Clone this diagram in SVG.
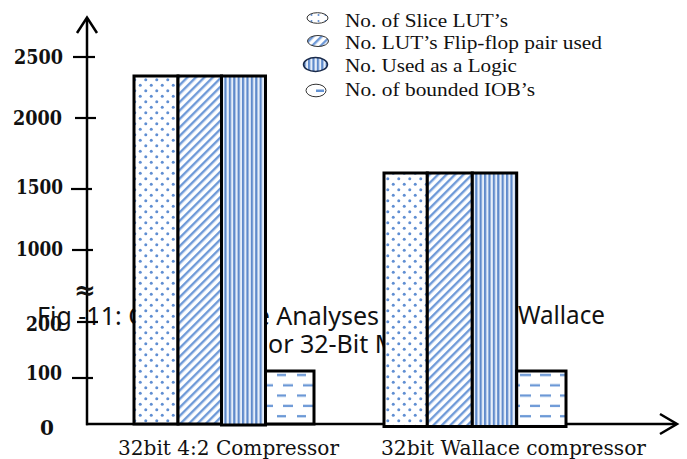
<svg xmlns="http://www.w3.org/2000/svg" width="687" height="459" viewBox="0 0 687 459">
<style>
.ax{stroke:#000;stroke-width:2.5;fill:none}
.tk{stroke:#000;stroke-width:2.2}
.yl{font-family:"DejaVu Serif",serif;font-weight:bold;font-size:20px;fill:#111;text-anchor:end}
.cap{font-family:"Noto Sans","Liberation Sans",sans-serif;font-size:25px;fill:#111}
.xl{font-family:"DejaVu Serif",serif;font-size:21px;fill:#111}
.lg{font-family:"Liberation Serif","Times New Roman",serif;font-size:18.5px;fill:#111}
.bar{stroke:#000;stroke-width:3}
.ic{stroke:#333;stroke-width:1}
</style>
<defs>
<pattern id="pDots" patternUnits="userSpaceOnUse" width="11" height="11">
<rect width="11" height="11" fill="#fff"/>
<circle cx="2.75" cy="2.75" r="1.5" fill="#5f8ed2"/>
<circle cx="8.25" cy="8.25" r="1.5" fill="#5f8ed2"/>
</pattern>
<pattern id="pDiag" patternUnits="userSpaceOnUse" width="6" height="6" patternTransform="rotate(45)">
<rect width="6" height="6" fill="#fff"/>
<rect x="0" y="0" width="2.4" height="6" fill="#6f9ad8"/>
</pattern>
<pattern id="pVert" patternUnits="userSpaceOnUse" width="4.4" height="10">
<rect width="4.4" height="10" fill="#e6eef9"/>
<rect x="0" y="0" width="2.2" height="10" fill="#5f8acb"/>
</pattern>
<pattern id="pDash1" patternUnits="userSpaceOnUse" width="20" height="20.6">
<rect width="20" height="20.6" fill="#fff"/>
<rect x="17" y="3.1" width="3" height="2.2" fill="#6493d4"/>
<rect x="0" y="3.1" width="6" height="2.2" fill="#6493d4"/>
<rect x="3" y="13.4" width="10" height="2.2" fill="#6493d4"/>
</pattern>
<pattern id="pDash2" patternUnits="userSpaceOnUse" width="20" height="20.6">
<rect width="20" height="20.6" fill="#fff"/>
<rect x="0" y="3.1" width="11" height="2.2" fill="#6493d4"/>
<rect x="10" y="13.4" width="10" height="2.2" fill="#6493d4"/>
</pattern>
<pattern id="iDots" patternUnits="userSpaceOnUse" width="7" height="6">
<rect width="7" height="6" fill="#fff"/>
<circle cx="3.5" cy="3" r="1" fill="#5f8ed2"/>
</pattern>
</defs>

<g id="caption">
<text class="cap" x="37" y="325">Fig -11: C</text>
<text class="cap" x="379" y="325" text-anchor="end">e Analyses</text>
<text class="cap" x="518" y="324" textLength="87" lengthAdjust="spacingAndGlyphs">Wallace</text>
<text class="cap" x="268" y="353">or 32-Bit M</text>
</g>

<g id="connectors">
<line class="ax" x1="87" y1="425.2" x2="87" y2="18"/>
<polyline class="ax" points="77,33 87,17.5 97,33"/>
<line class="ax" x1="86" y1="424" x2="676" y2="424"/>
<polyline class="ax" points="660,414 677,424 660,434"/>
<line class="tk" x1="73" y1="57" x2="95" y2="57"/>
<line class="tk" x1="75" y1="118" x2="96" y2="118"/>
<line class="tk" x1="71" y1="189" x2="92" y2="189"/>
<line class="tk" x1="72" y1="250" x2="93" y2="250"/>
<line class="tk" x1="77" y1="322" x2="98" y2="322"/>
<line class="tk" x1="72" y1="378" x2="93" y2="378"/>
</g>

<g id="y-labels">
<text class="yl" x="63" y="64" textLength="49" lengthAdjust="spacingAndGlyphs">2500</text>
<text class="yl" x="62" y="125" textLength="49" lengthAdjust="spacingAndGlyphs">2000</text>
<text class="yl" x="63" y="194" textLength="47" lengthAdjust="spacingAndGlyphs">1500</text>
<text class="yl" x="63" y="256" textLength="47" lengthAdjust="spacingAndGlyphs">1000</text>
<text class="yl" x="62" y="331" textLength="36" lengthAdjust="spacingAndGlyphs">200</text>
<text class="yl" x="62" y="380" textLength="36" lengthAdjust="spacingAndGlyphs">100</text>
<text class="yl" x="54" y="435">0</text>
<text x="85" y="299" style="font-family:'DejaVu Serif',serif;font-weight:bold;font-size:26px;text-anchor:middle;fill:#111">≈</text>
</g>

<g id="group-42">
<rect class="bar" x="134" y="76" width="44" height="348" fill="url(#pDots)"/>
<rect class="bar" x="178" y="76" width="43.5" height="348" fill="url(#pDiag)"/>
<rect class="bar" x="221.5" y="76" width="44" height="349" fill="url(#pVert)"/>
<rect class="bar" x="265.5" y="371" width="48.5" height="53" fill="url(#pDash1)"/>
</g>

<g id="group-wallace">
<rect class="bar" x="384" y="173" width="43.3" height="253.5" fill="url(#pDots)"/>
<rect class="bar" x="427.3" y="173" width="45" height="253.5" fill="url(#pDiag)"/>
<rect class="bar" x="472.3" y="173" width="44.4" height="253.5" fill="url(#pVert)"/>
<rect class="bar" x="516.7" y="371" width="49.3" height="55.5" fill="url(#pDash2)"/>
</g>

<g id="x-labels">
<text class="xl" x="118" y="455" textLength="221" lengthAdjust="spacingAndGlyphs">32bit 4:2 Compressor</text>
<text class="xl" x="381" y="455" textLength="265" lengthAdjust="spacingAndGlyphs">32bit Wallace compressor</text>
</g>

<g id="legend">
<g id="legend-slice">
<ellipse class="ic" cx="317.5" cy="18" rx="10.5" ry="5.3" fill="url(#iDots)"/>
<text class="lg" x="345" y="27" textLength="163" lengthAdjust="spacingAndGlyphs">No. of Slice LUT’s</text>
</g>
<g id="legend-ff">
<ellipse class="ic" cx="318" cy="41" rx="10.5" ry="5.5" fill="url(#pDiag)"/>
<text class="lg" x="345" y="49" textLength="257" lengthAdjust="spacingAndGlyphs">No. LUT’s Flip-flop pair used</text>
</g>
<g id="legend-logic">
<ellipse cx="315.5" cy="64.5" rx="12" ry="7" fill="url(#pVert)" stroke="#1a2a4a" stroke-width="1.5"/>
<text class="lg" x="345" y="72" textLength="172" lengthAdjust="spacingAndGlyphs">No. Used as a Logic</text>
</g>
<g id="legend-iob">
<ellipse class="ic" cx="316" cy="90.5" rx="10" ry="6.3" fill="#fff"/>
<rect x="316" y="89.5" width="8" height="2.5" fill="#6493d4"/>
<text class="lg" x="345" y="96" textLength="190" lengthAdjust="spacingAndGlyphs">No. of bounded IOB’s</text>
</g>
</g>
</svg>
